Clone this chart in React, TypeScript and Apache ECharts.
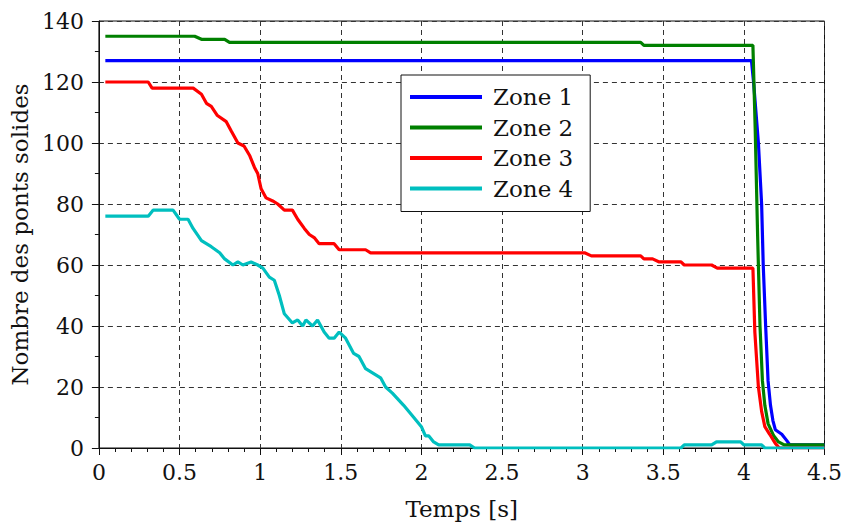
import React, { useEffect, useRef } from "react";
import * as echarts from "echarts";

const seriesNames = ["Zone 1", "Zone 2", "Zone 3", "Zone 4"];
const seriesColors = ["#0000ff", "#008000", "#ff0000", "#00bfbf"];

const t1 = [0.04, 4.047, 4.06, 4.09, 4.11, 4.12, 4.135, 4.15, 4.165, 4.18, 4.195, 4.235, 4.265, 4.285, 4.5];
const v1 = [127, 127, 120, 100, 80, 60, 40, 22, 14, 9, 6, 4.5, 2.5, 1, 1];

const t2 = [0.04, 0.594, 0.636, 0.78, 0.81, 3.36, 3.38, 4.056, 4.07, 4.085, 4.1, 4.115, 4.13, 4.15, 4.185, 4.215, 4.25, 4.5];
const v2 = [135, 135, 134, 134, 133, 133, 132, 132, 105, 70, 40, 22, 14, 8, 4, 2, 1, 1];

const t3 = [0.04, 0.306, 0.33, 0.585, 0.636, 0.667, 0.697, 0.735, 0.79, 0.82, 0.862, 0.9, 0.934, 0.965, 0.985, 1.006, 1.037, 1.078, 1.109, 1.15, 1.2, 1.233, 1.274, 1.305, 1.335, 1.366, 1.459, 1.49, 1.654, 1.685, 3.012, 3.054, 3.36, 3.38, 3.434, 3.475, 3.61, 3.63, 3.8, 3.835, 4.056, 4.068, 4.09, 4.11, 4.13, 4.16, 4.195, 4.22, 4.5];
const v3 = [120, 120, 118, 118, 116, 113, 112, 109, 107, 104, 100, 99, 96, 92, 90, 85, 82, 81, 80, 78, 78, 75, 72, 70, 69, 67, 67, 65, 65, 64, 64, 63, 63, 62, 62, 61, 61, 60, 60, 59, 59, 38, 20, 12, 7, 4.5, 1.5, 0, 0];

const t4 = [0.04, 0.306, 0.337, 0.46, 0.5, 0.553, 0.584, 0.636, 0.697, 0.749, 0.78, 0.831, 0.862, 0.893, 0.944, 0.985, 1.017, 1.057, 1.088, 1.119, 1.15, 1.2, 1.233, 1.264, 1.284, 1.325, 1.356, 1.397, 1.428, 1.459, 1.49, 1.53, 1.58, 1.613, 1.654, 1.747, 1.778, 1.82, 1.89, 1.953, 2.0, 2.025, 2.045, 2.076, 2.107, 2.3, 2.33, 3.61, 3.63, 3.8, 3.83, 3.98, 4.0, 4.11, 4.13, 4.5];
const v4 = [76, 76, 78, 78, 75, 75, 72, 68, 66, 64, 62, 60, 61, 60, 61, 60, 59, 56, 55, 50, 44, 41, 42, 40, 42, 40, 42, 38, 36, 36, 38, 36, 31, 30, 26, 23, 20, 18, 14, 10, 7, 4, 4, 2, 1, 1, 0, 0, 1, 1, 2, 2, 1, 1, 0, 0];

const xTitle = "Temps [s]";
const yTitle = "Nombre des ponts solides";

const times = [t1, t2, t3, t4];
const values = [v1, v2, v3, v4];

const FONT = "DejaVu Serif";

export default function App() {
  const ref = useRef<HTMLDivElement>(null);
  useEffect(() => {
    if (!ref.current) return;
    const chart = echarts.init(ref.current, null, { renderer: "svg" });
    const series = seriesNames.map((name, i) => ({
      name,
      type: "line",
      data: times[i].map((t, j) => [t, values[i][j]]),
      showSymbol: false,
      symbol: "none",
      lineStyle: { color: seriesColors[i], width: 3.2 },
      itemStyle: { color: seriesColors[i] },
      z: 2 + i,
    }));
    chart.setOption({
      animation: false,
      backgroundColor: "#ffffff",
      textStyle: { fontFamily: FONT },
      grid: {
        left: 97,
        top: 21,
        width: 729,
        height: 428,
        show: true,
        borderColor: "#111",
        borderWidth: 1,
        backgroundColor: "transparent",
      },
      legend: {
        orient: "vertical",
        left: 401,
        top: 75,
        icon: "rect",
        itemWidth: 72,
        itemHeight: 4,
        itemGap: 6.5,
        padding: [10, 17, 11, 9],
        backgroundColor: "#ffffff",
        borderColor: "#111",
        borderWidth: 1,
        textStyle: { fontFamily: FONT, fontSize: 23, color: "#111", lineHeight: 24, padding: [0, 0, 0, 6] },
        data: seriesNames,
        z: 10,
      },
      xAxis: {
        type: "value",
        min: 0,
        max: 4.5,
        interval: 0.5,
        name: xTitle,
        nameLocation: "middle",
        nameGap: 49,
        nameTextStyle: { fontFamily: FONT, fontSize: 23, color: "#111" },
        axisLine: { show: true, onZero: false, lineStyle: { color: "#111", width: 1 } },
        axisTick: { show: true, inside: false, length: 7, lineStyle: { color: "#111" } },
        minorTick: { show: true, splitNumber: 5, length: 4, lineStyle: { color: "#111" } },
        axisLabel: { fontFamily: FONT, fontSize: 22, color: "#111", margin: 13 },
        splitLine: { show: true, lineStyle: { color: "#333", type: [5, 4], width: 1 } },
      },
      yAxis: {
        type: "value",
        min: 0,
        max: 140,
        interval: 20,
        name: yTitle,
        nameLocation: "middle",
        nameGap: 61,
        nameTextStyle: { fontFamily: FONT, fontSize: 23, color: "#111" },
        axisLine: { show: true, onZero: false, lineStyle: { color: "#111", width: 1 } },
        axisTick: { show: true, inside: false, length: 7, lineStyle: { color: "#111" } },
        minorTick: { show: true, splitNumber: 2, length: 4, lineStyle: { color: "#111" } },
        axisLabel: { fontFamily: FONT, fontSize: 22, color: "#111", margin: 15 },
        splitLine: { show: true, lineStyle: { color: "#333", type: [5, 4], width: 1 } },
      },
      series,
    });
    return () => chart.dispose();
  }, []);
  return <div ref={ref} style={{ width: 845, height: 525, position: "absolute", left: 0, top: 0 }} />;
}
